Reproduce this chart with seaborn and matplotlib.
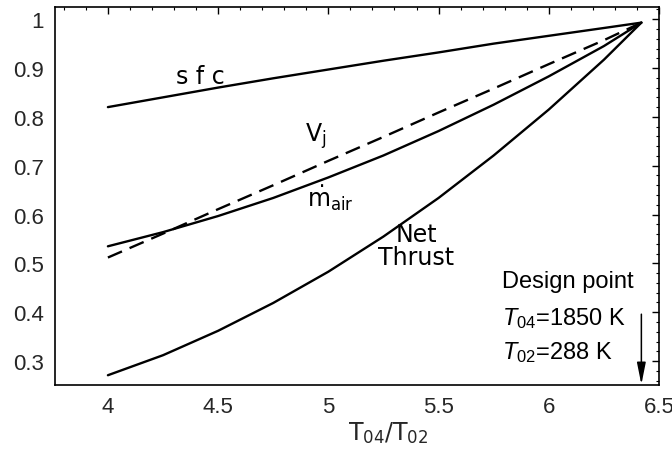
import numpy as np
import pandas as pd
import seaborn as sns
import matplotlib
matplotlib.use("Agg")
import matplotlib.pyplot as plt
from matplotlib.ticker import MultipleLocator

# ---- data ----
t_ratio = [4.0, 4.25, 4.5, 4.75, 5.0, 5.25, 5.5, 5.75, 6.0, 6.25, 6.42]
sfc = [0.820, 0.840, 0.860, 0.879, 0.897, 0.915, 0.932, 0.950, 0.966, 0.982, 0.993]
v_jet = [0.512, 0.561, 0.611, 0.660, 0.710, 0.759, 0.809, 0.858, 0.908, 0.957, 0.993]
m_air = [0.535, 0.564, 0.597, 0.634, 0.676, 0.721, 0.771, 0.825, 0.883, 0.945, 0.993]
net_thrust = [0.271, 0.312, 0.362, 0.419, 0.483, 0.555, 0.634, 0.721, 0.815, 0.917, 0.993]
series_names = ["sfc", "Vj", "mair", "Net Thrust"]
x_ticks = [4, 4.5, 5, 5.5, 6, 6.5]
x_tick_labels = ["4", "4.5", "5", "5.5", "6", "6.5"]
y_ticks = [0.3, 0.4, 0.5, 0.6, 0.7, 0.8, 0.9, 1.0]
y_tick_labels = ["0.3", "0.4", "0.5", "0.6", "0.7", "0.8", "0.9", "1"]
design_ratio = 6.42

df = pd.DataFrame({
    "x": t_ratio * 4,
    "y": sfc + v_jet + m_air + net_thrust,
    "series": sum([[n] * len(t_ratio) for n in series_names], []),
})

sns.set_theme(style="white")
plt.rcParams["font.family"] = ["Liberation Sans", "DejaVu Sans"]
plt.rcParams["mathtext.fontset"] = "custom"
plt.rcParams["mathtext.rm"] = "Liberation Sans"
plt.rcParams["mathtext.it"] = "Liberation Sans:italic"
plt.rcParams["mathtext.sf"] = "DejaVu Sans"

fig = plt.figure(figsize=(6.72, 4.56), dpi=100)
ax = fig.add_axes([55 / 672, 1 - 386 / 456, 604 / 672, 378 / 456])

sns.lineplot(data=df, x="x", y="y", hue="series", style="series",
             palette={n: "black" for n in series_names},
             dashes={"sfc": "", "Vj": (6.5, 3.5), "mair": "", "Net Thrust": ""},
             linewidth=1.7, legend=False, ax=ax, sort=True)

ax.set_xlim(3.76, 6.5)
ax.set_ylim(0.251, 1.025)
ax.set_xticks(x_ticks)
ax.set_xticklabels(x_tick_labels)
ax.set_yticks(y_ticks)
ax.set_yticklabels(y_tick_labels)
ax.xaxis.set_minor_locator(MultipleLocator(0.1))
ax.yaxis.set_minor_locator(MultipleLocator(0.02))
ax.tick_params(which="both", direction="in", top=True, right=True, color="black")
ax.tick_params(which="major", length=5, width=1.0, labelsize=16, pad=8)
ax.tick_params(which="minor", length=2.5, width=0.8)
for s in ax.spines.values():
    s.set_color("black")
    s.set_linewidth(1.2)

ax.set_ylabel("")
ax.set_xlabel(r"T$_{\mathsf{04}}$/T$_{\mathsf{02}}$", fontsize=17, family="DejaVu Sans")
ax.xaxis.set_label_coords(0.551, -0.09)

lab_kw = dict(family="DejaVu Sans", fontsize=17, ha="center", va="center", color="black")
ax.text(4.42, 0.884, "s f c", **lab_kw)
ax.text(4.945, 0.761, r"V$_{\mathsf{j}}$", **lab_kw)
ax.text(5.01, 0.636, r"$\mathsf{\dot{m}}_{\mathsf{air}}$", **lab_kw)
ax.text(5.40, 0.537, "Net\nThrust", linespacing=0.95, **lab_kw)

dp_kw = dict(fontsize=17, ha="left", va="center", color="black")
ax.text(5.786, 0.464, "Design point", **dp_kw)
ax.text(5.786, 0.390, r"$T_{04}$=1850 K", **dp_kw)
ax.text(5.786, 0.320, r"$T_{02}$=288 K", **dp_kw)

ax.annotate("", xy=(design_ratio, 0.252), xytext=(design_ratio, 0.396),
            arrowprops=dict(arrowstyle="-|>,head_width=0.22,head_length=1.1",
                            color="black", lw=1.1, shrinkA=0, shrinkB=0))

fig.savefig("out.png", dpi=100)
